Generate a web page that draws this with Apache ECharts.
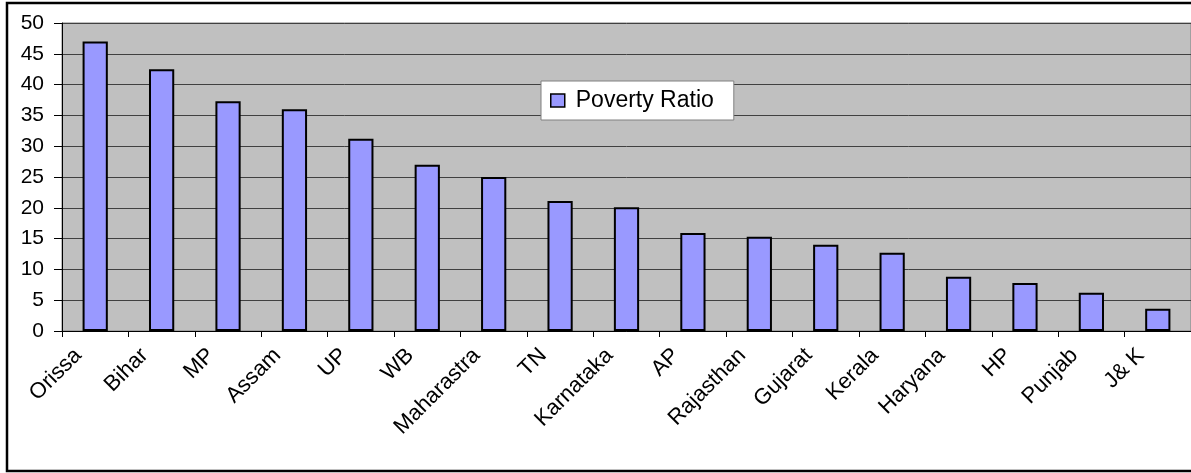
<!DOCTYPE html>
<html>
<head>
<meta charset="utf-8">
<script src="https://cdn.jsdelivr.net/npm/echarts@6/dist/echarts.min.js"></script>
<style>
html,body{margin:0;padding:0;background:#fff;}
#c{width:1191px;height:473px;}
</style>
</head>
<body>
<div id="c"></div>
<script>
const categories = ["Orissa","Bihar","MP","Assam","UP","WB","Maharastra","TN","Karnataka","AP","Rajasthan","Gujarat","Kerala","Haryana","HP","Punjab","J& K"];
const povertyRatio = [47.0,42.5,37.3,36.0,31.2,27.0,25.0,21.1,20.1,15.9,15.3,14.0,12.7,8.8,7.8,6.2,3.6];
const seriesName = "Poverty Ratio";

const FONT = 'Liberation Sans, Arial, sans-serif';
const chart = echarts.init(document.getElementById('c'), null, {renderer:'canvas'});
chart.setOption({
  animation:false,
  textStyle:{fontFamily:FONT},
  graphic:[{
    type:'rect', z:-1,
    shape:{x:7,y:3,width:1200,height:468},
    style:{fill:'none',stroke:'#000',lineWidth:2.5}
  }],
  grid:{left:62,right:0,top:23,bottom:142,show:true,backgroundColor:'#c0c0c0',borderColor:'#808080',borderWidth:1},
  legend:{
    data:[seriesName],
    left:541, top:81,
    padding:[8,20,8,9],
    backgroundColor:'#fff',
    borderColor:'#808080',borderWidth:1,
    itemWidth:14,itemHeight:13,itemGap:5,
    icon:'rect',
    textStyle:{fontSize:23,color:'#000',fontFamily:FONT,padding:[0,0,0,6]},
    itemStyle:{borderColor:'#000',borderWidth:1.5}
  },
  xAxis:{
    type:'category',
    data:categories,
    axisLine:{lineStyle:{color:'#000',width:1}},
    axisTick:{show:true,length:6,alignWithLabel:false,lineStyle:{color:'#000'}},
    axisLabel:{rotate:45,fontSize:22,color:'#000',margin:4,interval:0,padding:[0,24,0,0]}
  },
  yAxis:{
    type:'value',min:0,max:50,interval:5,
    axisLine:{show:true,lineStyle:{color:'#000',width:1}},
    axisTick:{show:true,inside:false,length:8,lineStyle:{color:'#000'}},
    axisLabel:{fontSize:21,color:'#000',margin:18},
    splitLine:{lineStyle:{color:'#404040',width:1}}
  },
  series:[{
    name:seriesName,
    type:'bar',
    data:povertyRatio,
    barWidth:'38%',
    itemStyle:{color:'#9999ff',borderColor:'#000',borderWidth:2}
  }]
});
</script>
</body>
</html>
